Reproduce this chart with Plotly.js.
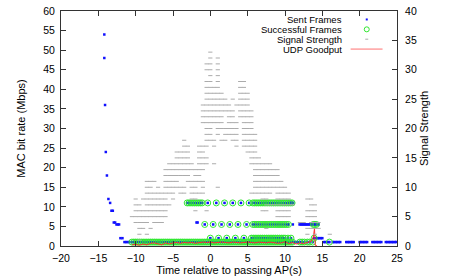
<!DOCTYPE html>
<html><head><meta charset="utf-8">
<script src="https://cdn.plot.ly/plotly-3.0.1.min.js"></script>
<style>html,body{margin:0;padding:0;background:#fff;} #chart{width:457px;height:277px;}</style>
</head><body><div id="chart"></div>
<script>
// ---------- DATA ----------
// Successful frames: time (s) per MAC rate (Mbps)
const succ1Time = [-10.5,-10.25,-10,-9.75,-9.5,-9.25,-9,-8.75,-8.5,-8.25,-8,-7.75,-7.5,-7.25,-7,-6.75,-6.5,-6.25,-6,-5.75,-5.5,-5.25,-5,-4.75,-4.5,-4.25,-4,-3.75,-3.5,-3.25,-3,-2.75,-2.5,-2.25,-2,-1.75,-1.5,-1.25,-1,-0.75,-0.5,-0.25,0,0.25,0.5,0.75,1,1.25,1.5,1.75,2,2.25,2.5,2.75,3,3.25,3.5,3.75,4,4.25,4.5,4.75,5,5.25,5.5,5.75,6,6.25,6.5,6.75,7,7.25,7.5,7.75,8,8.25,8.5,8.75,9,9.25,9.5,9.75,10,10.25,10.5,10.75,11,12.0,12.3,12.6,13.0,13.3,13.7,15.95];
const succ2Time = [0.0,1.1,2.2,3.35,4.5,5.5,5.75,6,6.25,6.5,6.75,7,7.25,7.5,7.75,8,8.25,8.5,8.75,9,9.25,9.5,9.75,10,10.4,10.8,13.9];
const succ55Time = [-0.75,0.38,1.5,2.6,3.7,4.85,5.7,5.95,6.2,6.45,6.7,6.95,7.2,7.45,7.7,7.95,8.2,8.45,8.7,8.95,9.2,9.45,9.7,9.95,10.2,10.45,13.8,14.0,14.2];
const succ11Time = [-3.1,-2.85,-2.6,-2.35,-2.1,-1.85,-1.6,-1.35,-1.1,-0.35,0.8,1.9,3.0,4.1,5.2,5.7,5.95,6.2,6.45,6.7,6.95,7.2,7.45,7.7,7.95,8.2,8.45,8.7,8.95,9.2,9.45,9.7,9.95,10.2,10.45,10.7,10.95];

// Sent frames that were not successful
const rampTime = [-14.2,-14.2,-14.1,-14.0,-13.85,-13.65,-13.42,-13.24,-13.06,-12.93,-12.75,-12.57,-12.39,-12.22,-12.04,-11.77,-11.5,-11.28,-11.06,-10.84];
const rampRate = [54,48,36,24,18,12,11,9,9,6,6,5.5,5.5,5.5,2,2,1,1,1,1];
const failed6Time = [-1.85,-1.7];
const failed11Time = [10.5,10.65,10.8,10.95,11.1];
const failed55Time = [10.4,11.05,11.95,12.1,12.25,12.4,12.55,12.7,12.85,13.0,13.15,13.3,13.45,13.6,13.75,13.9,14.05,14.2,14.35,14.5];
const failed2Time = [14.2,14.4,14.6,14.8,15.0];
const failed1Time = [11.3,11.5,11.7,15.2,15.4,15.6,15.8,16.4,16.6,16.8,17.0,17.2,17.4,18.2,18.4,18.6,18.8,19.0,19.2,20.0,20.2,20.4,20.6,20.8,21.0,21.7,21.9,22.1,22.3,22.5,22.7,22.9,23.5,23.7,23.9,24.1,24.3,24.5,24.7,24.9];

// Signal strength samples: level -> times (s)
const signalLevel = [33,32,31,30,29,28,27,26,25,24,23,22,21,20,19,18,17,16,15,14,13,12,11,10,9,8,7,6,5,4,3,2,1];
const signalTimes = [
  [0],
  [0,1],
  [-0.5,0,1],
  [-0.5,0,1],
  [0,1],
  [-0.5,0,1,4,4.5],
  [-0.5,0,0.5,1,4,4.5],
  [-0.5,0,0.5,1,1.5,4,4.5,5],
  [-0.5,0,0.5,1,1.5,2,3,4,4.5,5],
  [-1,-0.5,0,0.5,1,1.5,2,2.5,3.5,4,4.5,5],
  [-1,-0.5,0,0.5,1,1.5,2,2.5,3,4,4.5,5,5.5],
  [-1,-0.5,0,0.5,1,1.5,2.5,3,4,4.5,5,5.5],
  [-1,-0.5,0,0.5,1,1.5,2.5,3,3.5,4.5,5,5.5],
  [-0.5,0,1,1.5,2,2.5,3,3.5,4.5,5,5.5],
  [-0.5,0,1,2,2.5,3,3.5,4.5,5,5.5,6],
  [-3.5,-0.5,0,0.5,1.5,2,3,3.5,4.5,5,5.5,6],
  [-3.5,-3,-1.5,-1,-0.5,0.5,3.5,4.5,5,5.5,6],
  [-4.5,-4,-3.5,-3,-1.5,-1,5,5.5,6],
  [-4.5,-4,-3.5,-3,-1.5,-1,-0.5,5.5,6,6.5],
  [-5.5,-5,-4.5,-4,-3.5,-3,-2.5,-1.5,-1,-0.5,0.5,5.5,6,6.5,7,7.5,8],
  [-6,-5.5,-5,-4.5,-4,-3.5,-3,-2.5,-2,-1.5,-1,6,6.5,7,7.5,8,8.5,9],
  [-6,-5.5,-5,-4.5,-4,-3.5,-3,-2,-1.5,6,6.5,7,7.5,8,8.5,9],
  [-8.5,-8,-7.5,-6,-5.5,-5,-4.5,-3,-2.5,-2,-1.5,-1,6,6.5,7,7.5,8,8.5,9,9.5],
  [-8.5,-8,-7,-6,-5.5,-5,-4.5,-4,-3.5,-2.5,-2,-1,1,6,6.5,7,7.5,8,8.5,9,9.5,10],
  [-8.5,-8,-7.5,-7,-6.5,-6,-5.5,-5,-4,-3.5,-2.5,-2,-1.5,-1,5.5,6,6.5,7,7.5,8,9,9.5,10,10.5],
  [-10,-9,-8.5,-8,-7.5,-7,-6.5,-6,-5,-2.5,-2,7,7.5,9,9.5,10,10.5,13,13.5],
  [-10,-9.5,-8.5,-8,-7.5,-7,-6.5,-6,-5.5,7.5,8,8.5,9,9.5,10,10.5,11,13.5,14],
  [-10,-9.5,-9,-8.5,-8,-7.5,-7,-6.5,-6,-2,-0.5,7,7.5,9,9.5,10,10.5,13,13.5,14],
  [-10.5,-10,-9.5,-9,-8.5,-8,-7.5,-7,-6.5,-6,9,9.5,10,10.5,13,13.5,14],
  [-10,-9.5,-9,-8.5,-7.5,-7,-6.5,12,12.5,13.5,14,14.5],
  [-9.5,-9,-8,7.5,13,13.5,14,14.5],
  [-9.5,-8.5,13,14,16],
  [-9.5]
];

// UDP goodput (Mbps)
const goodputTime = [-10.5,-10,-9.5,-9,-8.5,-8,-7.5,-7,-6.5,-6,-5.5,-5,-4.5,-4,-3.5,-3,-2.5,-2,-1.5,-1,-0.5,0,0.5,1,1.5,2,2.5,3,3.5,4,4.5,5,5.5,6,6.5,7,7.5,8,8.5,9,9.5,10,10.5,11,11.5,12,12.5,13,13.5,13.8,13.95,14.05,14.3];
const goodputValue = [0.3,0.4,0.2,0.5,0.3,0.7,0.8,0.6,0.3,0.8,0.5,0.8,0.9,0.7,0.9,0.8,0.9,0.7,0.9,1.0,0.9,1.0,0.8,0.9,1.0,0.9,0.8,1.0,0.9,0.8,0.9,1.0,0.9,0.8,1.0,0.9,0.8,1.0,0.9,0.7,0.8,1.1,0.6,0.9,0.5,0.8,0.6,0.9,1.2,2.3,4.5,0.2,0];

const seriesNames = ['Sent Frames','Successful Frames','Signal Strength','UDP Goodput'];
const xTitle = 'Time relative to passing AP(s)';
const yTitle = 'MAC bit rate (Mbps)';
const y2Title = 'Signal Strength';

// ---------- BUILD TRACES ----------
function withRate(times, rate){ return {x: times, y: times.map(()=>rate)}; }
const succGroups = [withRate(succ1Time,1), withRate(succ2Time,2), withRate(succ55Time,5.5), withRate(succ11Time,11)];
const succX = [].concat(...succGroups.map(g=>g.x));
const succY = [].concat(...succGroups.map(g=>g.y));
const failGroups = [{x: rampTime, y: rampRate}, withRate(failed6Time,6), withRate(failed11Time,11), withRate(failed55Time,5.5), withRate(failed2Time,2), withRate(failed1Time,1)];
const sentX = [].concat(...failGroups.map(g=>g.x), succX);
const sentY = [].concat(...failGroups.map(g=>g.y), succY);
const sigX = [], sigY = [];
signalLevel.forEach((lv,i)=>{ signalTimes[i].forEach(t=>{ sigX.push(t); sigY.push(lv); }); });

const greyCol = '#ababab';
const traces = [
  {type:'scatter', mode:'markers', name:seriesNames[0], x:sentX, y:sentY,
   marker:{symbol:'square', size:2.5, color:'#1010ff', line:{width:0}}},
  {type:'scatter', mode:'markers', name:seriesNames[1], x:succX, y:succY,
   marker:{symbol:'circle-open', size:6, color:'#30e830', line:{width:1, color:'#30e830'}}},
  {type:'scatter', mode:'markers', name:seriesNames[2], x:sigX, y:sigY, yaxis:'y2',
   marker:{symbol:'line-ew', size:3, color:greyCol, line:{width:1, color:greyCol}}},
  {type:'scatter', mode:'lines', name:seriesNames[3], x:goodputTime, y:goodputValue,
   line:{color:'#ff3030', width:1}}
];

// legend drawn gnuplot-style (text right-aligned, sample to the right of the text)
const legRowsY = [0.964, 0.922, 0.880, 0.838];
const legTextX = 0.840, legSampleX = 0.91;
const annotations = seriesNames.map((n,i)=>({xref:'paper', yref:'paper', x:legTextX, y:legRowsY[i], text:n, showarrow:false, xanchor:'right', yanchor:'middle', borderpad:0, font:{size:9.5, color:'#000'}}));
const shapes = [
  {type:'rect', xref:'paper', yref:'paper', xsizemode:'pixel', ysizemode:'pixel', xanchor:legSampleX, yanchor:legRowsY[0], x0:-1, x1:1, y0:-1, y1:1, fillcolor:'#1010ff', line:{width:0}},
  {type:'circle', xref:'paper', yref:'paper', xsizemode:'pixel', ysizemode:'pixel', xanchor:legSampleX, yanchor:legRowsY[1], x0:-2.5, x1:2.5, y0:-2.5, y1:2.5, line:{width:1, color:'#30e830'}},
  {type:'line', xref:'paper', yref:'paper', xsizemode:'pixel', ysizemode:'pixel', xanchor:legSampleX, yanchor:legRowsY[2], x0:-1.5, x1:1.5, y0:0, y1:0, line:{width:1, color:greyCol}},
  {type:'line', xref:'paper', yref:'paper', x0:0.862, x1:0.957, y0:legRowsY[3], y1:legRowsY[3], line:{width:1, color:'#ff7070'}}
];

const axisCommon = {ticks:'inside', ticklen:5, tickcolor:'#333', showline:true, linecolor:'#333', linewidth:1, showgrid:false, zeroline:false, tickfont:{size:10.5, color:'#000'}};
const layout = {
  width:457, height:277,
  margin:{l:61, r:60, t:11, b:31, pad:0},
  paper_bgcolor:'#fff', plot_bgcolor:'#fff',
  showlegend:false,
  font:{family:'"Liberation Sans", Arial, sans-serif', size:11, color:'#000'},
  xaxis:Object.assign({}, axisCommon, {range:[-20,25], tick0:-20, dtick:5, mirror:'ticks', ticklabelstandoff:2,
    title:{text:xTitle, font:{size:11}, standoff:2}}),
  yaxis:Object.assign({}, axisCommon, {range:[0,60], tick0:0, dtick:5, mirror:false, ticklabelstandoff:3,
    title:{text:yTitle, font:{size:11}, standoff:15}}),
  yaxis2:Object.assign({}, axisCommon, {range:[0,40], tick0:0, dtick:5, overlaying:'y', side:'right', ticklabelstandoff:5,
    title:{text:y2Title, font:{size:11}, standoff:4}}),
  annotations:annotations,
  shapes:shapes
};
Plotly.newPlot('chart', traces, layout, {staticPlot:true, displayModeBar:false});
</script>
</body></html>
